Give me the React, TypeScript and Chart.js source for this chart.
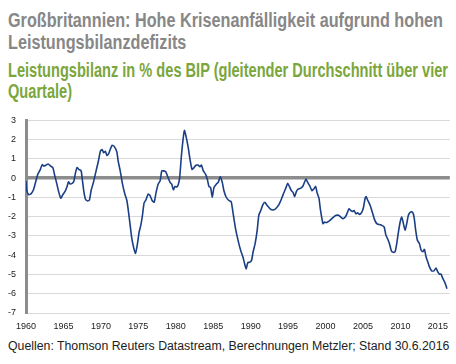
import React, { useEffect, useLayoutEffect, useRef } from "react";
import { Chart, registerables } from "chart.js";

Chart.register(...registerables);

const titleLines = ["Großbritannien: Hohe Krisenanfälligkeit aufgrund hohen", "Leistungsbilanzdefizits"];
const subtitleLines = ["Leistungsbilanz in % des BIP (gleitender Durchschnitt über vier", "Quartale)"];
const sourceText = "Quellen: Thomson Reuters Datastream, Berechnungen Metzler; Stand 30.6.2016";

const years = [
  1960.0, 1960.11, 1960.38, 1960.69, 1961.0, 1961.27, 1961.58, 1961.89, 1962.16, 1962.38, 1962.69, 1962.96,
  1963.22, 1963.58, 1963.8, 1964.02, 1964.33, 1964.64, 1964.91, 1965.22, 1965.49, 1965.67, 1965.89, 1966.16,
  1966.38, 1966.6, 1966.82, 1967.04, 1967.36, 1967.49, 1967.71, 1967.93, 1968.24, 1968.47, 1968.69, 1969.0,
  1969.36, 1969.67, 1969.93, 1970.16, 1970.38, 1970.6, 1970.82, 1971.04, 1971.22, 1971.49, 1971.76, 1972.0,
  1972.14, 1972.31, 1972.58, 1972.89, 1973.2, 1973.47, 1973.69, 1973.91, 1974.13, 1974.35, 1974.62, 1974.89,
  1975.11, 1975.33, 1975.55, 1975.77, 1976.04, 1976.31, 1976.57, 1976.84, 1977.11, 1977.37, 1977.64, 1977.91,
  1978.13, 1978.35, 1978.66, 1978.97, 1979.24, 1979.46, 1979.68, 1979.9, 1980.12, 1980.35, 1980.52, 1980.75,
  1980.97, 1981.15, 1981.37, 1981.63, 1981.9, 1982.17, 1982.43, 1982.7, 1982.97, 1983.23, 1983.41, 1983.68,
  1983.99, 1984.21, 1984.43, 1984.65, 1984.87, 1985.1, 1985.41, 1985.67, 1985.94, 1986.21, 1986.43, 1986.74,
  1987.09, 1987.4, 1987.63, 1987.98, 1988.34, 1988.65, 1988.96, 1989.18, 1989.4, 1989.62, 1989.85, 1990.11,
  1990.33, 1990.6, 1990.87, 1991.09, 1991.35, 1991.62, 1991.89, 1992.15, 1992.42, 1992.73, 1993.09, 1993.4,
  1993.75, 1994.11, 1994.42, 1994.73, 1994.95, 1995.17, 1995.44, 1995.66, 1995.88, 1996.1, 1996.33, 1996.64,
  1996.95, 1997.2, 1997.39, 1997.61, 1997.88, 1998.19, 1998.41, 1998.68, 1998.86, 1999.12, 1999.3, 1999.52,
  1999.65, 1999.88, 2000.1, 2000.41, 2000.72, 2001.07, 2001.43, 2001.74, 2002.05, 2002.32, 2002.63, 2002.85,
  2003.12, 2003.38, 2003.6, 2003.83, 2004.05, 2004.27, 2004.54, 2004.85, 2005.07, 2005.29, 2005.42, 2005.65,
  2005.96, 2006.27, 2006.53, 2006.84, 2007.2, 2007.51, 2007.82, 2008.04, 2008.31, 2008.53, 2008.8, 2009.06,
  2009.29, 2009.51, 2009.73, 2009.95, 2010.17, 2010.4, 2010.62, 2010.84, 2011.06, 2011.33, 2011.6, 2011.82,
  2012.04, 2012.26, 2012.53, 2012.75, 2012.97, 2013.2, 2013.42, 2013.64, 2013.86, 2014.17, 2014.48, 2014.75,
  2014.97, 2015.19, 2015.41, 2015.64, 2015.86, 2016.08, 2016.21,
];

const balance = [
  -0.15, -0.65, -0.86, -0.8, -0.6, -0.22, 0.2, 0.43, 0.7, 0.63, 0.68, 0.74,
  0.65, 0.55, 0.2, -0.14, -0.65, -1.04, -0.86, -0.68, -0.43, -0.19, -0.3, -0.27,
  -0.17, 0.26, 0.55, 0.46, 0.38, 0.03, -0.65, -1.08, -1.18, -1.13, -0.65, -0.22,
  0.38, 0.89, 1.4, 1.49, 1.32, 1.39, 1.18, 1.28, 1.46, 1.7, 1.66, 1.5,
  1.35, 0.89, 0.38, -0.31, -0.82, -1.16, -1.76, -2.45, -3.13, -3.56, -3.9, -3.39,
  -2.79, -2.45, -1.93, -1.28, -1.11, -0.82, -0.91, -1.16, -1.25, -0.74, -0.31, -0.14,
  0.38, 0.38, 0.33, 0.03, -0.22, -0.31, -0.6, -0.43, -0.46, -0.31, 0.03, 1.15,
  2.0, 2.48, 2.17, 1.66, 0.98, 0.46, 0.55, 0.67, 0.68, 0.6, 0.68, 0.38,
  0.2, -0.05, -0.43, -0.48, -0.99, -0.48, -0.31, -0.22, 0.09, -0.22, -0.65, -0.99,
  -1.16, -1.22, -1.76, -2.62, -3.27, -3.73, -4.08, -4.42, -4.71, -4.38, -4.37, -4.28,
  -3.82, -3.39, -2.71, -1.93, -1.68, -1.39, -1.25, -1.39, -1.51, -1.63, -1.64, -1.56,
  -1.39, -1.08, -0.77, -0.48, -0.27, -0.43, -0.65, -0.74, -0.96, -0.7, -0.57, -0.53,
  -0.43, -0.2, -0.05, -0.22, -0.39, -0.65, -0.57, -0.43, -0.74, -1.04, -1.59, -2.11,
  -2.36, -2.28, -2.31, -2.24, -2.14, -2.02, -1.93, -1.93, -2.02, -2.11, -2.02, -1.85,
  -1.59, -1.68, -1.73, -1.68, -1.85, -1.8, -1.88, -1.76, -1.51, -1.03, -0.96, -1.16,
  -1.42, -1.8, -2.14, -2.36, -2.41, -2.45, -2.53, -2.93, -3.17, -3.39, -3.78, -3.85,
  -3.82, -3.39, -2.8, -2.3, -2.02, -2.36, -2.71, -2.36, -1.93, -1.76, -1.76, -2.02,
  -2.71, -3.22, -3.39, -3.73, -3.82, -3.7, -4.08, -4.33, -4.59, -4.81, -4.81, -4.67,
  -4.85, -4.98, -4.98, -5.19, -5.36, -5.57, -5.74,
];

const yMin = -7;
const yMax = 3;
const xMin = 1960;
const xMax = 2016.6;

function FittedLines({ lines, target, top, color, lineHeight }: { lines: string[]; target: number; top: number; color: string; lineHeight: number }) {
  const boxRef = useRef<HTMLDivElement | null>(null);
  const firstRef = useRef<HTMLSpanElement | null>(null);
  useLayoutEffect(() => {
    if (!boxRef.current || !firstRef.current) return;
    const w = firstRef.current.getBoundingClientRect().width;
    if (w > 0) boxRef.current.style.transform = `scaleX(${target / w})`;
  }, []);
  return (
    <div
      ref={boxRef}
      style={{
        position: "absolute",
        left: 8,
        top,
        whiteSpace: "nowrap",
        transformOrigin: "0 0",
        fontFamily: "'Liberation Sans', Arial, sans-serif",
        fontWeight: "bold",
        fontSize: 19.5,
        lineHeight: `${lineHeight}px`,
        color,
      }}
    >
      <span ref={firstRef}>{lines[0]}</span>
      <br />
      <span>{lines[1]}</span>
    </div>
  );
}

export default function App() {
  const canvasRef = useRef<HTMLCanvasElement | null>(null);

  useEffect(() => {
    if (!canvasRef.current) return;
    const points = years.map((y, i) => ({ x: y, y: balance[i] }));
    const chart = new Chart(canvasRef.current, {
      type: "line",
      data: {
        datasets: [
          {
            data: points,
            borderColor: "#1b3f85",
            borderWidth: 1.6,
            pointRadius: 0,
            tension: 0.2,
            fill: false,
          },
        ],
      },
      options: {
        animation: false,
        responsive: false,
        maintainAspectRatio: false,
        layout: { padding: { left: 0, right: 4, top: 14, bottom: 0 } },
        plugins: { legend: { display: false }, tooltip: { enabled: false }, title: { display: false } },
        scales: {
          x: {
            type: "linear",
            min: xMin,
            max: xMax,
            grid: { display: false, drawTicks: false },
            border: { display: false },
            ticks: {
              stepSize: 5,
              includeBounds: false,
              autoSkip: false,
              maxRotation: 0,
              padding: 8,
              color: "#222",
              font: { family: "'Liberation Sans', Arial, sans-serif", size: 9 },
              callback: (v: any) => (Number(v) % 5 === 0 ? String(v) : ""),
            },
            afterFit: (s: any) => {
              s.height = 22;
            },
          },
          y: {
            min: yMin,
            max: yMax,
            grid: {
              drawTicks: false,
              color: (c: any) => (c.tick && c.tick.value === 0 ? "#8c8c8c" : "#d9d9d9"),
              lineWidth: (c: any) => (c.tick && c.tick.value === 0 ? 3.5 : 1),
            },
            border: { display: true, color: "#8c8c8c", width: 3 },
            ticks: {
              stepSize: 1,
              padding: 10,
              color: "#222",
              font: { family: "'Liberation Sans', Arial, sans-serif", size: 9 },
            },
            afterFit: (s: any) => {
              s.width = 26;
            },
          },
        },
      },
    });
    return () => chart.destroy();
  }, []);

  return (
    <div style={{ position: "fixed", left: 0, top: 0, width: 456, height: 364, background: "#fff", overflow: "hidden" }}>
      <FittedLines lines={titleLines} target={435} top={9} color="#878787" lineHeight={22} />
      <FittedLines lines={subtitleLines} target={440} top={60} color="#7aa63c" lineHeight={21} />
      <canvas ref={canvasRef} width={456} height={230} style={{ position: "absolute", left: 0, top: 105, width: 456, height: 230 }} />
      <div
        style={{
          position: "absolute",
          left: 8,
          top: 339,
          whiteSpace: "nowrap",
          fontFamily: "'Liberation Sans', Arial, sans-serif",
          fontSize: 12.3,
          lineHeight: "14px",
          color: "#222",
        }}
      >
        {sourceText}
      </div>
    </div>
  );
}
